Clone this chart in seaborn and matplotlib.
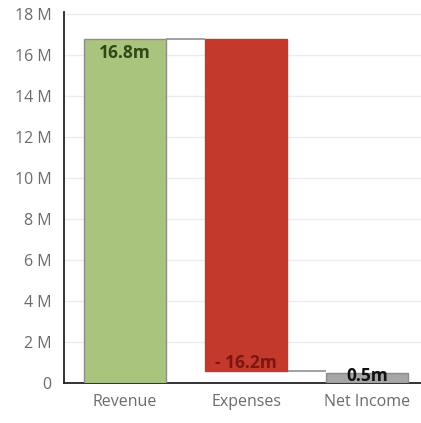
import matplotlib
matplotlib.use("Agg")
import matplotlib.pyplot as plt
from matplotlib.ticker import FuncFormatter, MultipleLocator
import seaborn as sns

# Waterfall data (millions)
categories = ["Revenue", "Expenses", "Net Income"]
changes = [16.8, -16.2, 0.5]
labels = ["16.8m", "- 16.2m", "0.5m"]

bar_colors = ["#a9c47c", "#c33a2d", "#a6a6a6"]
edge_colors = ["#8c8c8c", "#c33a2d", "#8c8c8c"]
label_colors = ["#2f4a16", "#7d1410", "#111111"]

# floating bar extents
bottoms = [0.0, changes[0] + changes[1], 0.0]
heights = [changes[0], -changes[1], changes[2]]

sns.set_style("white")
plt.rcParams["font.family"] = ["Open Sans", "DejaVu Sans"]

fig = plt.figure(figsize=(4.21, 4.23), dpi=100)
ax = fig.add_axes([64 / 421, 40 / 423, 1 - 64 / 421, (383 - 12) / 423])

for i, cat in enumerate(categories):
    sns.barplot(x=[cat], y=[heights[i]], order=categories, bottom=bottoms[i],
                color=bar_colors[i], saturation=1, width=0.68,
                edgecolor=edge_colors[i], linewidth=1.0, ax=ax, zorder=3)

# connectors between consecutive bars
half = 0.34
running = [changes[0], changes[0] + changes[1]]
for i, level in enumerate(running):
    ax.plot([i + half, i + 1 - half], [level, level], color="#9a9a9a",
            lw=1.3, zorder=2, solid_capstyle="butt")

# value labels
lab_kw = dict(ha="center", va="center", fontsize=12.5, fontweight="bold", zorder=4)
ax.text(0, changes[0] - 0.7, labels[0], color=label_colors[0], **lab_kw)
ax.text(1, bottoms[1] + 0.4, labels[1], color=label_colors[1], **lab_kw)
ax.text(2, 0.34, labels[2], color=label_colors[2], **lab_kw)

ax.set_xlim(-0.504, 2.446)
ax.set_ylim(0, 18.1)
ax.yaxis.set_major_locator(MultipleLocator(2))
ax.yaxis.set_major_formatter(FuncFormatter(lambda v, p: "0" if v == 0 else f"{v:.0f} M"))
ax.grid(axis="y", color="#ececec", lw=1.0, zorder=0)
ax.set_axisbelow(True)

for side in ["top", "right"]:
    ax.spines[side].set_visible(False)
for side in ["left", "bottom"]:
    ax.spines[side].set_color("#222222")
    ax.spines[side].set_linewidth(1.3)

ax.tick_params(axis="y", length=0, pad=9, labelsize=11.5, labelcolor="#6b6b6b")
ax.tick_params(axis="x", length=0, pad=8, labelsize=11.5, labelcolor="#6b6b6b")
ax.set_xlabel("")
ax.set_ylabel("")

fig.savefig("out.png", dpi=100)
